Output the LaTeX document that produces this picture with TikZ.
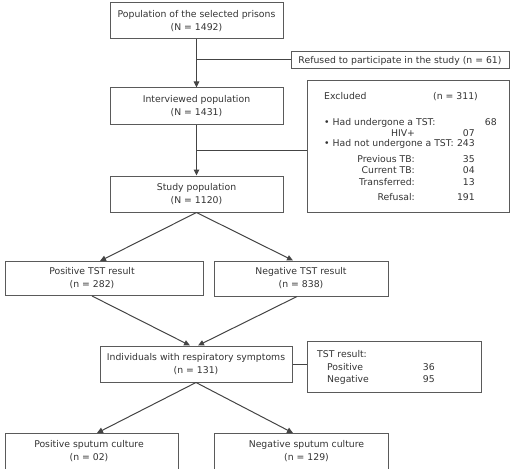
\documentclass[tikz,border=0pt]{standalone}
\usepackage{fontspec}
\setmainfont{DejaVu Sans}
\usetikzlibrary{arrows.meta}
\definecolor{txt}{HTML}{333333}
\definecolor{bord}{HTML}{5A5A5A}
\definecolor{lin}{HTML}{444444}
\begin{document}
\begin{tikzpicture}[x=1pt,y=-1pt,
  every node/.style={text=txt, font=\fontsize{9.3}{13}\selectfont},
  box/.style={draw=bord, line width=1pt, align=center, inner sep=0pt},
  conn/.style={draw=lin, line width=1pt},
  arr/.style={conn, -{Triangle[length=6pt,width=5.5pt]}},
  tl/.style={anchor=base west, inner sep=0pt},
  tr/.style={anchor=base east, inner sep=0pt}]
\clip (0,0) rectangle (510,468);
% boxes
\node[box, minimum width=173, minimum height=36] (pop) at (196.5,21) {Population of the selected prisons\\(N = 1492)};
\node[box, minimum width=218, minimum height=17] (ref) at (400,60.5) {Refused to participate in the study (n = 61)};
\node[box, minimum width=173, minimum height=36] (int) at (196.5,106) {Interviewed population\\(N = 1431)};
\node[box, minimum width=202, minimum height=131] (exc) at (408,146.5) {};
\node[box, minimum width=173, minimum height=36] (study) at (196.5,194) {Study population\\(N = 1120)};
\node[box, minimum width=198, minimum height=34] (ptst) at (104,278.5) {};
\node (ptsttext) at (92,278.5) [align=center] {Positive TST result\\(n = 282)};
\node[box, minimum width=174, minimum height=35] (ntst) at (301,278.5) {Negative TST result\\(n = 838)};
\node[box, minimum width=192, minimum height=36] (resp) at (196,364) {Individuals with respiratory symptoms\\(n = 131)};
\node[box, minimum width=174, minimum height=51] (tst) at (394,366.5) {};
\node[box, minimum width=173, minimum height=47, anchor=north] (pspu) at (91.5,433) {};
\node (pspute) at (89,451) [align=center] {Positive sputum culture\\(n = 02)};
\node[box, minimum width=174, minimum height=47, anchor=north] (nspu) at (301,433) {};
\node (nspute) at (306.5,451) [align=center] {Negative sputum culture\\(n = 129)};
% excluded box text
\node[tl] (e1) at (324,99.5) {Excluded};
\node[tl] (e1n) at (433,99.5) {(n = 311)};
\node[tl] (e2) at (324,125.5) {• Had undergone a TST:};
\node[tr] (e2n) at (497,125.5) {68};
\node[anchor=base, inner sep=0pt] (e3) at (403,136) {HIV+};
\node[tr] (e3n) at (475,136) {07};
\node[tl] (e4) at (324,146.5) {• Had not undergone a TST:};
\node[tr] (e4n) at (475,146.5) {243};
\node[tr] (e5) at (415,162) {Previous TB:};
\node[tr] (e5n) at (475,162) {35};
\node[tr] (e6) at (415,173.5) {Current TB:};
\node[tr] (e6n) at (475,173.5) {04};
\node[tr] (e7) at (415,185) {Transferred:};
\node[tr] (e7n) at (475,185) {13};
\node[tr] (e8) at (415,200) {Refusal:};
\node[tr] (e8n) at (475,200) {191};
% TST result box text
\node[tl] (t1) at (317,357.5) {TST result:};
\node[tl] (t2) at (327,370.5) {Positive};
\node[tr] (t2n) at (435,370.5) {36};
\node[tl] (t3) at (327,382.5) {Negative};
\node[tr] (t3n) at (435,382.5) {95};
% connectors
\draw[arr] (pop.south) -- (int.north);
\coordinate (j1) at (196.5,60);
\draw[conn] (j1) -- (j1 -| ref.west);
\draw[arr] (int.south) -- (study.north);
\coordinate (j2) at (196.5,150);
\draw[conn] (j2) -- (j2 -| exc.west);
\draw[arr] (study.south) -- ([xshift=-4pt]ptst.north);
\draw[arr] (study.south) -- ([xshift=-8pt]ntst.north);
\draw[arr] ([xshift=-12pt]ptst.south) -- ([xshift=-6pt]resp.north);
\draw[arr] ([xshift=-4pt]ntst.south) -- ([xshift=2pt]resp.north);
\draw[conn] (resp.east) -- (resp.east -| tst.west);
\draw[arr] (resp.south) -- ([xshift=5.5pt]pspu.north);
\draw[arr] (resp.south) -- ([xshift=-8pt]nspu.north);
\end{tikzpicture}
\end{document}
